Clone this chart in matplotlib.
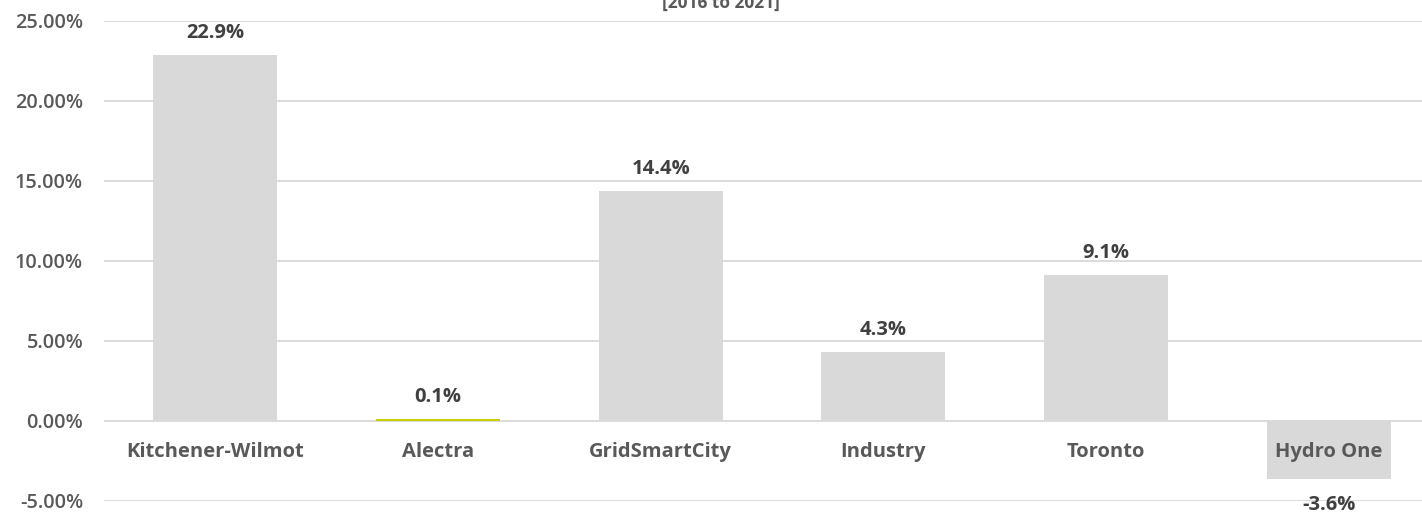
import matplotlib
matplotlib.use("Agg")
import matplotlib.pyplot as plt

categories = ["Kitchener-Wilmot", "Alectra", "GridSmartCity", "Industry", "Toronto", "Hydro One"]
values = [22.9, 0.1, 14.4, 4.3, 9.1, -3.6]
bar_colors = ["#D9D9D9", "#C8D100", "#D9D9D9", "#D9D9D9", "#D9D9D9", "#D9D9D9"]
yticks = [-5, 0, 5, 10, 15, 20, 25]
title = "[2016 to 2021]"

TXT = "#595959"
FONT = ["Open Sans", "DejaVu Sans"]

W, H = 1422, 513
fig = plt.figure(figsize=(W / 100, H / 100), dpi=100)
left_px, right_px = 104, 1440
top_px, bot_px = 21, 501
ax = fig.add_axes([left_px / W, (H - bot_px) / H, (right_px - left_px) / W, (bot_px - top_px) / H])

x = list(range(len(categories)))
ax.bar(x, values, width=0.557, color=bar_colors, zorder=2)
ax.set_xlim(-0.5, len(categories) - 0.5)
ax.set_ylim(-5, 25)
ax.set_yticks(yticks)
ax.set_yticklabels([f"{v:.2f}%" for v in yticks], fontsize=14.3, color=TXT, family=FONT, fontweight="semibold")
ax.tick_params(axis="y", length=0, pad=15)
ax.set_xticks([])
ax.grid(axis="y", color="#D9D9D9", linewidth=1.3, zorder=0)
ax.set_axisbelow(True)
for s in ax.spines.values():
    s.set_visible(False)

# category labels near zero line
for xi, c in zip(x, categories):
    ax.annotate(c, (xi, 0), xytext=(0, -31), textcoords="offset pixels",
                ha="center", va="center", fontsize=14.5, fontweight="bold",
                color=TXT, family=FONT, zorder=3)

# value labels
for xi, v in zip(x, values):
    off = 22 if v >= 0 else -26
    ax.annotate(f"{v:.1f}%", (xi, v), xytext=(0, off), textcoords="offset pixels",
                ha="center", va="center", fontsize=14.5, fontweight="bold",
                color="#404040", family=FONT)

fig.text(721 / W, 1 - 8 / H, title, ha="center", va="baseline", fontsize=12.5,
         fontweight="bold", color=TXT, family=FONT)

fig.savefig("out.png", dpi=100)
